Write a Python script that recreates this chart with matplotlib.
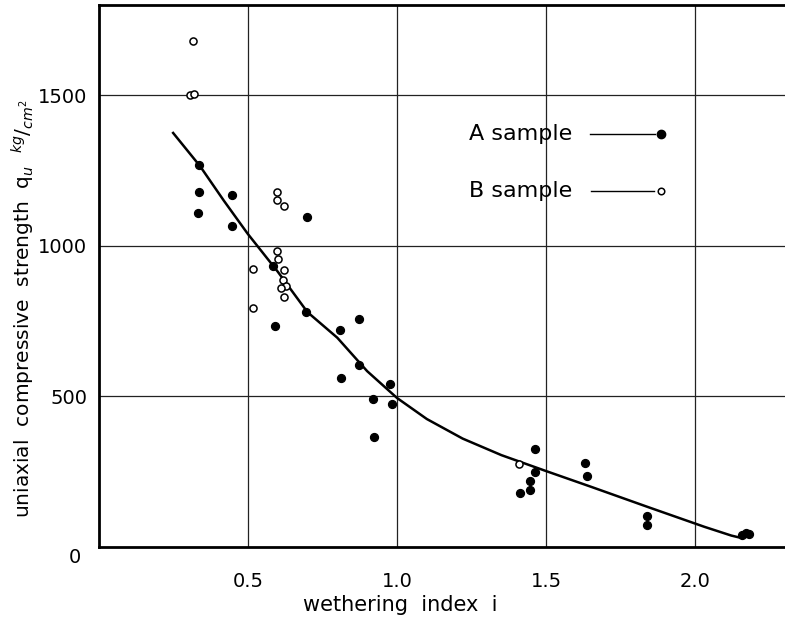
import matplotlib
matplotlib.use("Agg")
import matplotlib.pyplot as plt

# A sample (filled circles)
a_x = [0.336, 0.338, 0.332, 0.447, 0.448, 0.699, 0.585, 0.590, 0.696, 0.810, 0.874,
       0.873, 0.811, 0.976, 0.921, 0.982, 0.923, 1.463, 1.463, 1.445, 1.445, 1.411,
       1.630, 1.636, 1.836, 1.836, 2.155, 2.170, 2.180]
a_y = [1267, 1179, 1108, 1170, 1065, 1096, 934, 733, 779, 721, 757,
       605, 562, 541, 492, 475, 365, 327, 249, 220, 189, 178,
       279, 236, 104, 73, 40, 45, 42]

# B sample (open circles)
b_x = [0.317, 0.305, 0.319, 0.597, 0.599, 0.620, 0.599, 0.600, 0.517, 0.622,
       0.618, 0.628, 0.611, 0.620, 0.517, 1.409]
b_y = [1679, 1500, 1506, 1179, 1152, 1133, 984, 957, 923, 919,
       886, 867, 860, 830, 794, 277]

# hand drawn trend curve
curve_x = [0.25, 0.34, 0.42, 0.50, 0.60, 0.70, 0.80, 0.90, 1.00, 1.10, 1.22,
           1.35, 1.50, 1.65, 1.84, 2.03, 2.12, 2.145, 2.16]
curve_y = [1375, 1265, 1150, 1040, 915, 780, 695, 584, 495, 425, 360,
           305, 252, 200, 133, 67, 38, 32, 36]

xticks = [0.5, 1.0, 1.5, 2.0]
xticklabels = ["0.5", "1.0", "1.5", "2.0"]
yticks = [500, 1000, 1500]
yticklabels = ["500", "1000", "1500"]


def main():
    plt.rcParams['font.family'] = ['DejaVu Sans']
    fig = plt.figure(figsize=(7.85, 6.23), dpi=100)
    ax = fig.add_axes([0.1255, 0.122, 0.8745, 0.870])

    ax.set_xlim(0, 2.30)
    ax.set_ylim(0, 1800)

    #grid
    for xv in xticks:
        ax.axvline(xv, color='#222222', lw=0.9, zorder=1)
    for yv in yticks:
        ax.axhline(yv, color='#222222', lw=0.9, zorder=1)

    ax.plot(curve_x, curve_y, color='black', lw=1.8, zorder=2)
    ax.scatter(a_x, a_y, s=32, color='black', zorder=3)
    ax.scatter(b_x, b_y, s=26, facecolor='white', edgecolor='black', lw=1.1, zorder=3)

    #legend drawn by hand
    ax.text(1.24, 1371, "A sample", fontsize=16, va='center', ha='left')
    ax.plot([1.645, 1.865], [1371, 1371], color='black', lw=1.0)
    ax.scatter([1.885], [1371], s=36, color='black', zorder=3)
    ax.text(1.24, 1182, "B sample", fontsize=16, va='center', ha='left')
    ax.plot([1.65, 1.86], [1182, 1182], color='black', lw=1.0)
    ax.scatter([1.885], [1182], s=22, facecolor='white', edgecolor='black', lw=1.1, zorder=3)

    ax.set_xticks(xticks)
    ax.set_xticklabels(xticklabels, fontsize=14)
    ax.set_yticks(yticks)
    ax.set_yticklabels(yticklabels, fontsize=14)
    ax.tick_params(axis='x', length=0, pad=18)
    ax.tick_params(axis='y', length=0, pad=8)
    ax.text(-0.079, -36, "0", fontsize=14, ha='center', va='center', clip_on=False)

    for side in ['left', 'bottom', 'top']:
        ax.spines[side].set_linewidth(2.0)
    ax.spines['right'].set_visible(False)

    ax.set_xlabel("wethering  index  i", fontsize=15)
    ax.xaxis.set_label_coords(0.44, -0.088)
    ax.set_ylabel(r"uniaxial  compressive  strength  q$_u$  $^{kg}/_{cm^2}$", fontsize=14.5)
    ax.yaxis.set_label_coords(-0.09, 0.44)

    fig.savefig("out.png", dpi=100)
#main

if __name__ == "__main__":
    main()
